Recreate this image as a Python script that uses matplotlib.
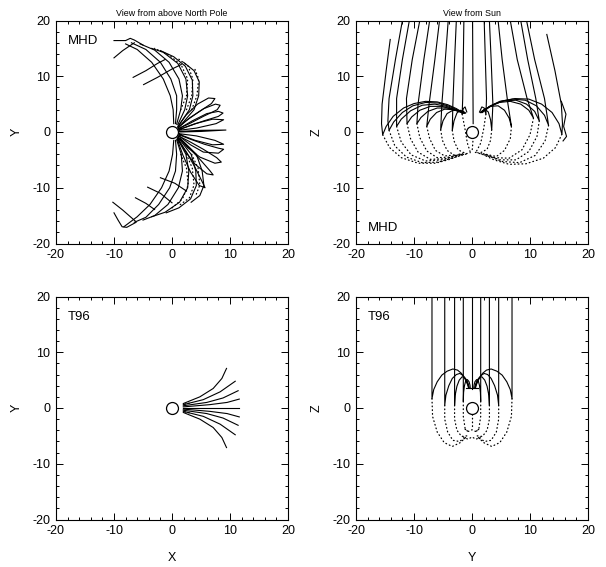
"""Field line traces: MHD vs T96, seen from above the pole and from the Sun."""

import matplotlib
matplotlib.use("Agg")
import matplotlib.pyplot as plt
from matplotlib.ticker import MultipleLocator

plt.rcParams["font.family"] = ["Liberation Sans", "DejaVu Sans"]
plt.rcParams["axes.unicode_minus"] = False

TICKS = [-20, -10, 0, 10, 20]
TICK_LABELS = ["-20", "-10", "0", "10", "20"]

# ---- MHD, X-Y plane (view from above North Pole) ----
MHD_XY_ARCS = [
    [(0.3, 1.5), (0.2, 4), (-0.3, 6.5), (-1.5, 9.5), (-3.5, 12.5), (-6, 14.8), (-8, 15.8)],
    [(0.6, 1.5), (0.8, 4), (0.8, 6.5), (-0.2, 9.5), (-2, 12.5), (-4.5, 14.8), (-7, 16)],
    [(0.8, 1.4), (1.5, 4), (1.8, 6.5), (1.2, 9.5), (-0.5, 12.5), (-3, 14.7), (-5.5, 15.8)],
    [(1, 1.3), (2.2, 4), (2.7, 6.5), (2.4, 9.5), (1, 12.3), (-1.5, 14.3), (-3.5, 15)],
    [(1.2, 1.2), (3, 4), (3.6, 6.5), (3.5, 9.3), (2.3, 11.8), (0.3, 13.5), (-2, 14.6)],
    [(1.4, 1.1), (3.8, 4), (4.6, 6.5), (4.7, 9), (3.8, 11), (2, 12.5)],
    [(0.3, -1.5), (0.1, -4), (-0.5, -7), (-1.8, -10), (-3.8, -13), (-6, -15.2), (-8.3, -17)],
    [(0.6, -1.5), (0.8, -4), (0.6, -7), (-0.4, -10), (-2.3, -13), (-4.5, -15.3), (-6.5, -16.2)],
    [(0.8, -1.4), (1.6, -4), (1.8, -7), (1.1, -10), (-0.7, -13), (-3, -15), (-5, -15.8)],
    [(1, -1.3), (2.4, -4), (2.9, -7), (2.7, -10), (1.3, -12.6), (-1.2, -14.4), (-3.5, -15.2)],
    [(1.2, -1.2), (3.3, -4), (4.1, -7), (4.2, -9.6), (3.2, -12), (1.2, -13.6), (-1, -14.5)],
    [(1.4, -1.1), (4.2, -4), (5.2, -7), (5.5, -9.6), (4.8, -11.4), (3.3, -12.6)],
]
MHD_XY_PETALS = [
    [(1.0, 1.0), (2.4, 3.0), (4.4, 5.0), (6.3, 6.1), (7.4, 6.0), (6.8, 5.1), (4.6, 3.6), (2.4, 2.0), (1.0, 0.8)],
    [(1.1, 0.8), (3.0, 2.5), (5.5, 4.2), (7.5, 5.0), (8.3, 4.8), (7.8, 4.0), (5.4, 2.8), (3.0, 1.5), (1.1, 0.6)],
    [(1.2, 0.6), (3.5, 2.0), (6.0, 3.3), (8.0, 3.7), (8.8, 3.4), (8.0, 2.8), (5.5, 2.0), (3.0, 1.1), (1.2, 0.45)],
    [(1.2, 0.4), (4.0, 1.5), (7.0, 2.3), (8.9, 2.2), (7.6, 1.5), (4.2, 0.7), (1.2, 0.3)],
    [(1.2, 0.1), (5.0, 0.3), (9.3, 0.35), (5.0, 0.1), (1.2, 0.0)],
    [(1.2, -0.3), (4.2, -0.7), (7.4, -1.5), (8.9, -2.2), (7.0, -2.3), (4.0, -1.5), (1.2, -0.4)],
    [(1.2, -0.5), (3.2, -1.3), (5.6, -2.2), (8.0, -2.9), (8.9, -3.1), (8.0, -3.8), (5.4, -3.6), (3.2, -2.3), (1.2, -0.7)],
    [(1.1, -0.7), (3.0, -1.7), (5.4, -3.1), (7.7, -4.6), (8.5, -5.4), (7.4, -5.6), (4.8, -4.5), (2.7, -2.8), (1.1, -0.9)],
    [(1.0, -0.9), (2.9, -2.8), (4.9, -5.0), (6.5, -6.9), (7.1, -7.7), (6.0, -7.5), (4.0, -5.8), (2.3, -3.5), (1.0, -1.1)],
    [(0.9, -1.1), (2.5, -3.6), (4.0, -6.4), (5.1, -8.7), (5.7, -10.0), (4.7, -9.6), (3.2, -7.2), (1.9, -4.2), (0.9, -1.3)],
]
MHD_XY_STROKES = [
    [(-10, 13.3), (-8.5, 14.6), (-6.5, 16)],
    [(-6.7, 9.8), (-4.5, 11), (-2.5, 12.3), (-1.2, 13)],
    [(-4.9, 8.5), (-2.5, 9.8), (0, 11.3), (1.6, 12.1)],
    [(-10, 16.4), (-8, 16.4), (-7.2, 16.8), (-6.5, 16.5), (-5, 15.6)],
    [(-10.2, -12.6), (-8.5, -14), (-6.3, -16)],
    [(-6.3, -11.8), (-4.5, -12.8), (-3, -13.9)],
    [(-4.2, -9.9), (-2, -11), (0, -12.7)],
    [(-2, -8.2), (0.5, -9.2), (2.5, -10.6)],
    [(-10, -14.5), (-9.3, -15.8), (-8.6, -17), (-7.8, -17.1), (-6.2, -16.2)],
]
MHD_XY_DOTTED = [
    [(1.5, 4), (2.5, 6.5), (2.7, 9.5), (1.6, 12), (-0.5, 13.8), (-3, 15)],
    [(2.5, 4), (3.4, 6.5), (3.6, 9.5), (2.8, 11.8), (1, 13.2)],
    [(3.4, 4), (4.3, 6.5), (4.6, 9.5), (3.9, 11.4)],
    [(1.5, -4), (2.5, -6.5), (2.8, -9.5), (1.8, -12), (-0.2, -13.8)],
    [(2.5, -4), (3.5, -6.5), (3.8, -9.5), (3.0, -11.8), (1.2, -13.2)],
    [(3.4, -4), (4.5, -6.5), (4.8, -9.5), (4.1, -11.4)],
]

# ---- MHD, Y-Z plane (view from Sun) ----
MHD_YZ_SOLID = [
    [(-14.1, 16.6), (-14.8, 11), (-15.5, 5), (-15.6, 1.5), (-15.4, -0.5), (-14.8, 1.0), (-13.6, 2.8), (-11.8, 4.3), (-10.0, 5.1), (-8.0, 5.5), (-6.0, 5.4), (-4.2, 4.9), (-2.7, 4.2), (-1.6, 3.5)],
    [(-12, 20), (-13.2, 13), (-14.3, 6), (-14.5, 2), (-14.3, 0.3), (-13.5, 1.8), (-12.0, 3.5), (-10.2, 4.7), (-8.0, 5.3), (-5.8, 5.2), (-3.9, 4.6), (-2.4, 3.9), (-1.5, 3.4)],
    [(-10.8, 20), (-12.0, 13), (-13.0, 6), (-13.0, 1.0), (-12.2, 2.3), (-10.6, 3.8), (-8.6, 4.8), (-6.4, 5.0), (-4.4, 4.6), (-2.7, 3.9), (-1.5, 3.4)],
    [(-9, 20), (-10.3, 13), (-11.3, 6), (-11.2, 1.5), (-10.4, 2.7), (-9.0, 3.9), (-7.2, 4.6), (-5.2, 4.6), (-3.4, 4.1), (-2.1, 3.6), (-1.4, 3.4)],
    [(-7.3, 20), (-8.3, 13), (-9.3, 5), (-9.5, 1.5), (-8.8, 2.6), (-7.6, 3.7), (-6.0, 4.3), (-4.3, 4.3), (-2.8, 3.9), (-1.3, 3.4)],
    [(-5.6, 20), (-6.4, 13), (-7.4, 5), (-7.8, 1.0), (-7.2, 2.3), (-6.1, 3.5), (-4.7, 4.1), (-3.2, 4.0), (-2.0, 3.7), (-1.3, 3.4)],
    [(-4.1, 20), (-4.6, 13), (-5.2, 5), (-5.4, 0.4), (-5.0, 2.0), (-4.3, 3.3), (-3.3, 3.9), (-2.2, 3.8), (-1.2, 3.4)],
    [(-2.7, 20), (-3.0, 13), (-3.3, 5), (-3.4, 0.3), (-3.1, 2.0), (-2.6, 3.4), (-2.0, 3.9), (-1.5, 3.7), (-1.1, 3.4)],
    [(-1.4, 20), (-1.5, 13), (-1.6, 6), (-1.7, 3.2), (-1.5, 4.2), (-1.2, 4.5), (-0.9, 3.6)],
    [(0.1, 20), (0.15, 10), (0.2, 1.5)],
    [(2.1, 20), (2.3, 13), (2.5, 6), (2.4, 3.2), (2.1, 4.3), (1.7, 4.5), (1.3, 3.6)],
    [(3.0, 20), (3.3, 13), (3.6, 5), (3.4, 0.4), (3.2, 2.2), (2.8, 3.6), (2.2, 4.1), (1.4, 3.5)],
    [(4.5, 20), (5.2, 13), (6.2, 5), (6.8, 1.0), (6.4, 2.5), (5.6, 3.9), (4.5, 4.7), (3.2, 4.6), (2.2, 4.1), (1.5, 3.5)],
    [(6.6, 20), (7.8, 13), (9.5, 6), (10.6, 2.5), (9.8, 3.9), (8.4, 5.0), (6.6, 5.5), (4.7, 5.3), (3.1, 4.6), (2.0, 3.9), (1.5, 3.5)],
    [(8.4, 20), (9.6, 13), (11.0, 6), (11.6, 2.0), (10.8, 3.7), (9.4, 5.0), (7.6, 5.7), (5.6, 5.6), (3.8, 5.0), (2.4, 4.1), (1.6, 3.5)],
    [(9.4, 20), (10.8, 13), (12.5, 6), (13.2, 1.2), (12.5, 3.0), (11.1, 4.7), (9.2, 5.7), (7.0, 5.9), (4.8, 5.5), (3.0, 4.6), (1.7, 3.5)],
    [(12.9, 17.5), (14.3, 11), (15.4, 5), (15.6, 1.5), (15.5, -0.4), (15.0, 1.5), (13.8, 3.5), (12.0, 5.0), (9.8, 5.9), (7.4, 6.0), (5.0, 5.5), (3.0, 4.5), (1.8, 3.5)],
    [(15.4, 5.5), (16.2, 3.2), (15.8, 1.0), (16.3, -0.8), (15.7, -1.6)],
]
MHD_YZ_DOTTED = [
    [(-15.4, -0.5), (-14.2, -2.8), (-12.2, -4.6), (-9.3, -5.6), (-6.3, -5.6), (-3.8, -4.9), (-1.8, -4.1), (-0.3, -3.7)],
    [(-14.3, 0.3), (-13.3, -2.5), (-11.3, -4.5), (-8.6, -5.5), (-5.8, -5.4), (-3.2, -4.6), (-0.8, -3.9)],
    [(-13, 1.0), (-12.2, -1.8), (-10.5, -4.1), (-8, -5.2), (-5.2, -5.0), (-2.6, -4.3)],
    [(-11.2, 1.5), (-10.6, -1.2), (-9.3, -3.6), (-7.2, -4.9), (-4.6, -4.8), (-2.0, -4.0)],
    [(-9.5, 1.5), (-9.0, -1.0), (-7.8, -3.4), (-6.0, -4.6), (-3.8, -4.5), (-1.6, -3.8)],
    [(-7.8, 1.0), (-7.3, -1.2), (-6.3, -3.3), (-4.7, -4.3), (-2.8, -4.1)],
    [(-5.4, 0.4), (-5.1, -1.5), (-4.3, -3.3), (-3.0, -4.2), (-1.5, -4.0)],
    [(-3.4, 0.3), (-3.1, -1.6), (-2.4, -3.2), (-1.2, -3.8)],
    [(-1.7, 3.2), (-1.2, 0.5), (-0.8, -2.0), (-0.3, -3.6)],
    [(15.5, -0.4), (14.4, -2.8), (12.3, -4.7), (9.3, -5.7), (6.4, -5.8), (3.8, -5.0), (1.8, -4.0), (0.4, -3.6)],
    [(13.2, 1.2), (12.6, -1.6), (10.9, -4.2), (8.2, -5.5), (5.3, -5.3), (2.7, -4.3), (1.0, -3.7)],
    [(11.6, 2.0), (11.2, -0.8), (9.8, -3.5), (7.6, -5.0), (4.8, -5.0), (2.2, -4.0)],
    [(10.6, 2.5), (10.0, -0.5), (8.6, -3.2), (6.4, -4.7), (3.9, -4.6), (1.7, -3.8)],
    [(6.8, 1.0), (6.6, -1.2), (5.6, -3.3), (4.2, -4.4), (2.4, -4.0)],
    [(3.4, 0.4), (3.2, -1.5), (2.6, -3.1), (1.5, -3.7)],
    [(2.4, 3.2), (2.0, 0.5), (1.5, -2.0), (0.8, -3.4)],
    [(0.2, -1.0), (0.1, -2.5), (0.0, -3.6)],
]

# ---- T96, X-Y plane ----
T96_XY_SOLID = [
    [(1.95, 0.8), (4.8, 2.0), (7.1, 3.5), (8.6, 5.3), (9.4, 7.1)],
    [(1.95, 0.6), (5.4, 1.5), (8.3, 2.9), (10.9, 4.8)],
    [(1.95, 0.4), (6.0, 1.0), (8.8, 1.8), (11.4, 3.1)],
    [(1.95, 0.2), (6.5, 0.6), (9.5, 1.0), (11.6, 1.6)],
    [(1.95, 0.0), (6.5, 0.0), (11.6, 0.0)],
    [(1.95, -0.2), (6.5, -0.6), (9.5, -1.0), (11.6, -1.6)],
    [(1.95, -0.4), (6.0, -1.0), (8.8, -1.8), (11.4, -3.1)],
    [(1.95, -0.6), (5.4, -1.5), (8.3, -2.9), (10.9, -4.8)],
    [(1.95, -0.8), (4.8, -2.0), (7.1, -3.5), (8.6, -5.3), (9.4, -7.1)],
]
T96_XY_DOTTED = [
    [(2.2, 0.7), (3.2, 0.9)],
    [(2.2, -0.7), (3.2, -0.9)],
]

# ---- T96, Y-Z plane ----
T96_YZ_SOLID = [
    [(-6.9, 20), (-6.9, 1.7), (-6.6, 3.3), (-6.0, 4.7), (-5.2, 5.9), (-4.3, 6.6), (-3.3, 7.0), (-2.5, 6.8), (-1.8, 6.2), (-1.2, 5.2), (-0.8, 4.3), (-0.6, 3.6)],
    [(-4.7, 20), (-4.7, 0.5), (-4.5, 2.3), (-4.0, 4.0), (-3.4, 5.3), (-2.7, 6.0), (-2.1, 6.2), (-1.5, 5.8), (-1.0, 5.0), (-0.7, 4.2), (-0.5, 3.6)],
    [(-3.0, 20), (-3.0, 0.5), (-2.9, 2.3), (-2.6, 3.9), (-2.2, 5.0), (-1.7, 5.6), (-1.3, 5.5), (-0.9, 5.0), (-0.6, 4.2), (-0.5, 3.7)],
    [(-1.5, 20), (-1.5, 1.2), (-1.45, 2.8), (-1.3, 4.0), (-1.1, 4.8), (-0.8, 5.1), (-0.5, 4.7), (-0.35, 4.1), (-0.3, 3.6)],
    [(0.0, 20), (0.0, 3.4)],
    [(1.5, 20), (1.5, 1.2), (1.45, 2.8), (1.3, 4.0), (1.1, 4.8), (0.8, 5.1), (0.5, 4.7), (0.35, 4.1), (0.3, 3.6)],
    [(3.0, 20), (3.0, 0.5), (2.9, 2.3), (2.6, 3.9), (2.2, 5.0), (1.7, 5.6), (1.3, 5.5), (0.9, 5.0), (0.6, 4.2), (0.5, 3.7)],
    [(4.6, 20), (4.6, 0.5), (4.4, 2.3), (3.9, 4.0), (3.3, 5.3), (2.7, 6.0), (2.1, 6.2), (1.5, 5.8), (1.0, 5.0), (0.7, 4.2), (0.5, 3.6)],
    [(6.9, 20), (6.9, 1.7), (6.6, 3.3), (6.0, 4.7), (5.2, 5.9), (4.3, 6.6), (3.3, 7.0), (2.5, 6.8), (1.8, 6.2), (1.2, 5.2), (0.8, 4.3), (0.6, 3.6)],
    [(-1.0, 3.5), (1.0, 3.5)],
]
T96_YZ_DOTTED = [
    [(-6.9, 1.7), (-6.8, -1.5), (-6.0, -4.3), (-4.8, -6.2), (-3.4, -6.9), (-2.0, -6.2), (-1.0, -5.2)],
    [(-4.7, 0.5), (-4.7, -2.0), (-4.2, -4.3), (-3.3, -5.8), (-2.2, -6.0), (-1.2, -5.4)],
    [(-3.0, 0.5), (-3.0, -2.0), (-2.6, -4.0), (-1.8, -5.1), (-0.9, -5.0)],
    [(-1.5, 1.2), (-1.5, -1.5), (-1.2, -3.6), (-0.6, -4.4)],
    [(6.9, 1.7), (6.8, -1.5), (6.0, -4.3), (4.8, -6.2), (3.4, -6.9), (2.0, -6.2), (1.0, -5.2)],
    [(4.6, 0.5), (4.6, -2.0), (4.2, -4.3), (3.3, -5.8), (2.2, -6.0), (1.2, -5.4)],
    [(3.0, 0.5), (3.0, -2.0), (2.6, -4.0), (1.8, -5.1), (0.9, -5.0)],
    [(1.5, 1.2), (1.5, -1.5), (1.2, -3.6), (0.6, -4.4)],
    [(-1.2, -3.8), (-0.6, -4.2), (0.0, -3.9), (0.6, -4.2), (1.2, -3.8)],
    [(-1.5, -5.2), (-0.7, -5.6), (0.0, -5.2), (0.7, -5.6), (1.5, -5.2)],
    [(0.0, -1.0), (0.0, -3.6)],
]


def draw_lines(ax, lines, dotted=False):
    for line in lines:
        xs = [p[0] for p in line]
        ys = [p[1] for p in line]
        if dotted:
            ax.plot(xs, ys, color="black", lw=0.9, linestyle=(0, (0.6, 2.4)),
                    dash_capstyle="round")
        else:
            ax.plot(xs, ys, color="black", lw=0.8, solid_joinstyle="round")


def style_axes(ax, xlabel=None, ylabel=None, title=None):
    ax.set_xlim(-20, 20)
    ax.set_ylim(-20, 20)
    ax.set_xticks(TICKS, TICK_LABELS)
    ax.set_yticks(TICKS, TICK_LABELS)
    ax.xaxis.set_minor_locator(MultipleLocator(2))
    ax.yaxis.set_minor_locator(MultipleLocator(2))
    ax.tick_params(which="both", direction="in", top=True, right=True,
                   width=0.7, labelsize=9, pad=4)
    ax.tick_params(which="major", length=5)
    ax.tick_params(which="minor", length=2.5)
    for sp in ax.spines.values():
        sp.set_linewidth(0.8)
    if xlabel:
        ax.set_xlabel(xlabel, fontsize=9, labelpad=11)
    if ylabel:
        ax.set_ylabel(ylabel, fontsize=9, labelpad=7)
    if title:
        ax.set_title(title, fontsize=6.4, pad=3)
    # Earth
    ax.plot([0], [0], "o", ms=8.6, mfc="white", mec="black", mew=0.9, zorder=5)


fig = plt.figure(figsize=(6.06, 5.67), dpi=100)
W, H = 606, 567
pw, ph = 232 / W, 223 / H
ax1 = fig.add_axes([56 / W, (H - 243.5) / H, pw, ph])
ax2 = fig.add_axes([356 / W, (H - 243.5) / H, pw, ph])
ax3 = fig.add_axes([56 / W, (H - 519.5) / H, pw, ph])
ax4 = fig.add_axes([356 / W, (H - 519.5) / H, pw, ph])

draw_lines(ax1, MHD_XY_ARCS)
draw_lines(ax1, MHD_XY_PETALS)
draw_lines(ax1, MHD_XY_STROKES)
draw_lines(ax1, MHD_XY_DOTTED, dotted=True)
style_axes(ax1, ylabel="Y", title="View from above North Pole")
ax1.text(-18, 16.3, "MHD", fontsize=9.5, va="center")

draw_lines(ax2, MHD_YZ_SOLID)
draw_lines(ax2, MHD_YZ_DOTTED, dotted=True)
style_axes(ax2, ylabel="Z", title="View from Sun")
ax2.text(-18, -17.2, "MHD", fontsize=9.5, va="center")

draw_lines(ax3, T96_XY_SOLID)
draw_lines(ax3, T96_XY_DOTTED, dotted=True)
style_axes(ax3, xlabel="X", ylabel="Y")
ax3.text(-18, 16.3, "T96", fontsize=9.5, va="center")

draw_lines(ax4, T96_YZ_SOLID)
draw_lines(ax4, T96_YZ_DOTTED, dotted=True)
style_axes(ax4, xlabel="Y", ylabel="Z")
ax4.text(-18, 16.3, "T96", fontsize=9.5, va="center")

fig.savefig("out.png", dpi=100)
